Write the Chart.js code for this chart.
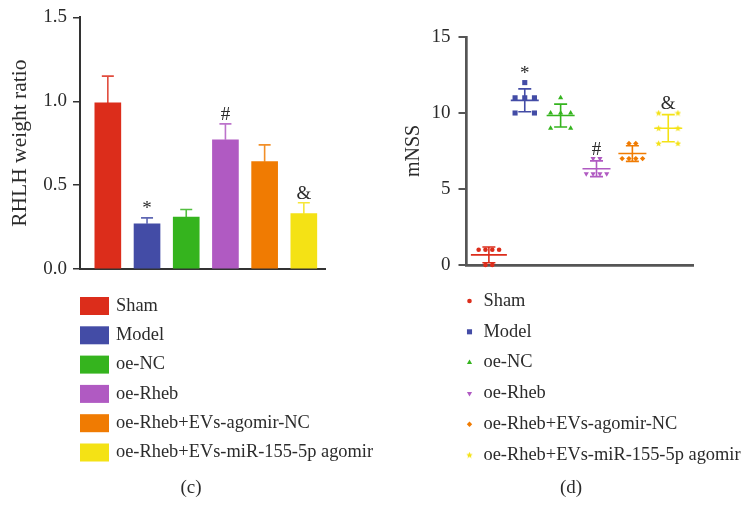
<!DOCTYPE html>
<html>
<head>
<meta charset="utf-8">
<script src="https://cdn.jsdelivr.net/npm/chart.js@4.4.1/dist/chart.umd.min.js"></script>
<style>
  html, body { margin: 0; padding: 0; background: #fff; }
  #wrap { position: relative; width: 743px; height: 507px; overflow: hidden; }
  canvas { position: absolute; top: 0; }
  #c1 { left: 0; }
  #c2 { left: 370px; }
</style>
</head>
<body>
<div id="wrap">
  <canvas id="c1" width="400" height="507"></canvas>
  <canvas id="c2" width="373" height="507"></canvas>
</div>
<script>
const groups = ['Sham', 'Model', 'oe-NC', 'oe-Rheb', 'oe-Rheb+EVs-agomir-NC', 'oe-Rheb+EVs-miR-155-5p agomir'];
const colors = ['#dc2d1b', '#434ca6', '#35b41e', '#b05ac2', '#f07b02', '#f4e215'];
const sigMarks = ['', '*', '', '#', '', '&'];

// (c) RHLH weight ratio: bar height and upper error
const rhlhMean = [0.99, 0.27, 0.31, 0.77, 0.64, 0.33];
const rhlhErr = [0.16, 0.035, 0.045, 0.095, 0.10, 0.065];
const rhlhTicks = [0, 0.5, 1.0, 1.5];

// (d) mNSS per animal
const mnssSham = [1, 1, 1, 1, 0, 0];
const mnssModel = [12, 11, 11, 11, 10, 10];
const mnssNC = [11, 10, 10, 10, 9, 9];
const mnssRheb = [7, 7, 6, 6, 6, 6];
const mnssAgoNC = [8, 8, 7, 7, 7, 7];
const mnssAgo155 = [10, 10, 9, 9, 8, 8];
const mnssTicks = [0, 5, 10, 15];

const mnss = [mnssSham, mnssModel, mnssNC, mnssRheb, mnssAgoNC, mnssAgo155];

Chart.defaults.font.family = "'Liberation Serif', 'Times New Roman', serif";
Chart.defaults.color = '#2b2b2b';

const textColor = '#2b2b2b';

// small filled star for the last group
function makeStar(color) {
    const c = document.createElement('canvas');
    c.width = 7; c.height = 7;
    const g = c.getContext('2d');
    g.fillStyle = color;
    g.beginPath();
    for (let k = 0; k < 10; k++) {
        const r = k % 2 ? 1.5 : 3.4;
        const a = -Math.PI / 2 + k * Math.PI / 5;
        g.lineTo(3.5 + r * Math.cos(a), 3.7 + r * Math.sin(a));
    }
    g.closePath();
    g.fill();
    return c;
}

const shapes = ['circle', 'rect', 'triangle', 'triangle', 'rectRot', makeStar(colors[5])];
const rotations = [0, 0, 0, 180, 0, 0];
const radii = [2.3, 3.6, 3, 3, 2.7, 4];
const stepUnits = [0.19, 0.27, 0.28, 0.19, 0.19, 0.27];
const bigMarker = [false, true, true, false, false, true];
const meanHalf = [18, 14, 14, 14, 14, 14];

// points with the same score sit side by side around the group centre
function spread(values, step, skipCentre) {
    const counts = {}, seen = {};
    values.forEach(v => counts[v] = (counts[v] || 0) + 1);
    return values.map(v => {
        const n = counts[v];
        seen[v] = seen[v] === undefined ? 0 : seen[v] + 1;
        let slot = seen[v] - (n - 1) / 2;
        if (skipCentre && n % 2 === 0) slot = slot < 0 ? Math.floor(slot) : Math.ceil(slot);
        return slot * step;
    });
}

const mean = a => a.reduce((s, v) => s + v, 0) / a.length;
const sd = a => {
    const m = mean(a);
    return Math.sqrt(a.reduce((s, v) => s + (v - m) * (v - m), 0) / (a.length - 1));
};

const barErrors = {
    id: 'barErrors',
    afterDatasetsDraw(chart) {
        const { ctx, scales: { x, y } } = chart;
        ctx.save();
        rhlhMean.forEach((m, i) => {
            const px = x.getPixelForValue(i + 1);
            const top = y.getPixelForValue(m + rhlhErr[i]);
            const base = y.getPixelForValue(m);
            ctx.globalAlpha = 0.85;
            ctx.strokeStyle = colors[i];
            ctx.lineWidth = 1.6;
            ctx.beginPath();
            ctx.moveTo(px, base);
            ctx.lineTo(px, top);
            ctx.moveTo(px - 6, top);
            ctx.lineTo(px + 6, top);
            ctx.stroke();
            ctx.globalAlpha = 1;
            if (sigMarks[i]) {
                ctx.fillStyle = textColor;
                ctx.font = "19px 'Liberation Serif'";
                ctx.textAlign = 'center';
                ctx.textBaseline = 'alphabetic';
                ctx.fillText(sigMarks[i], px, top - 4);
            }
        });
        ctx.restore();
    }
};

const legendC = {
    id: 'legendC',
    afterDraw(chart) {
        const { ctx, chartArea } = chart;
        ctx.save();
        ctx.font = "18.4px 'Liberation Serif'";
        ctx.textBaseline = 'middle';
        groups.forEach((g, i) => {
            const yy = chartArea.bottom + 37 + i * 29.3;
            ctx.fillStyle = colors[i];
            ctx.fillRect(chartArea.left, yy - 9, 29, 18);
            ctx.fillStyle = textColor;
            ctx.fillText(g, chartArea.left + 36, yy);
        });
        ctx.textAlign = 'center';
        ctx.font = "19px 'Liberation Serif'";
        ctx.fillText('(c)', 191, 488);
        ctx.restore();
    }
};

const meanSd = {
    id: 'meanSd',
    afterDatasetsDraw(chart) {
        const { ctx, scales: { x, y } } = chart;
        ctx.save();
        mnss.forEach((vals, i) => {
            const m = mean(vals), s = sd(vals);
            const cx = x.getPixelForValue(i + 1);
            const ym = y.getPixelForValue(m);
            const yt = y.getPixelForValue(m + s);
            const yb = y.getPixelForValue(m - s);
            ctx.strokeStyle = colors[i];
            ctx.lineWidth = 1.6;
            ctx.beginPath();
            ctx.moveTo(cx - meanHalf[i], ym);
            ctx.lineTo(cx + meanHalf[i], ym);
            ctx.moveTo(cx, yt);
            ctx.lineTo(cx, yb);
            ctx.moveTo(cx - 6.5, yt);
            ctx.lineTo(cx + 6.5, yt);
            ctx.moveTo(cx - 6.5, yb);
            ctx.lineTo(cx + 6.5, yb);
            ctx.stroke();
            if (sigMarks[i]) {
                const anchor = Math.min(yt, y.getPixelForValue(Math.max(...vals)));
                ctx.fillStyle = textColor;
                ctx.font = "19px 'Liberation Serif'";
                ctx.textAlign = 'center';
                ctx.textBaseline = 'alphabetic';
                ctx.fillText(sigMarks[i], cx, anchor - 4);
            }
        });
        ctx.restore();
    }
};

const legendD = {
    id: 'legendD',
    afterDraw(chart) {
        const { ctx, chartArea } = chart;
        ctx.save();
        ctx.font = "18.4px 'Liberation Serif'";
        ctx.textBaseline = 'middle';
        groups.forEach((g, i) => {
            const yy = chartArea.bottom + 36 + i * 30.8;
            const mx = chartArea.left + 3.5;
            ctx.fillStyle = colors[i];
            if (Chart.helpers && Chart.helpers.drawPoint) {
                Chart.helpers.drawPoint(ctx, {
                    pointStyle: shapes[i], rotation: rotations[i], radius: radii[i], borderWidth: 0
                }, mx, yy);
            }
            ctx.fillStyle = textColor;
            ctx.fillText(g, chartArea.left + 17.5, yy);
        });
        ctx.textAlign = 'center';
        ctx.font = "19px 'Liberation Serif'";
        ctx.fillText('(d)', 201, 488);
        ctx.restore();
    }
};

new Chart(document.getElementById('c1'), {
    type: 'bar',
    data: {
        datasets: [ {
            data: rhlhMean.map((v, i) => ({ x: i + 1, y: v })),
            backgroundColor: colors,
            barThickness: 26
        } ]
    },
    options: {
        responsive: false,
        animation: false,
        layout: { padding: { top: 17, bottom: 238, right: 75, left: 0 } },
        plugins: { legend: { display: false }, tooltip: { enabled: false } },
        scales: {
            x: {
                type: 'linear', min: 0.29, max: 6.54, offset: false, z: 1,
                afterFit: s => { s.height = 0; },
                ticks: { display: false },
                grid: { display: false },
                border: { color: '#333', width: 2 }
            },
            y: {
                min: rhlhTicks[0], max: rhlhTicks[rhlhTicks.length - 1],
                afterBuildTicks: s => { s.ticks = rhlhTicks.map(v => ({ value: v })); },
                afterFit: s => { s.width = 80; },
                ticks: { padding: 6, font: { size: 19 }, color: textColor, callback: v => v.toFixed(1) },
                grid: { drawOnChartArea: false, tickLength: 7, color: '#333', lineWidth: 1.5 },
                border: { color: '#333', width: 2 },
                title: { display: true, text: 'RHLH weight ratio', font: { size: 21.5 }, color: textColor, padding: { top: 7, bottom: 0 } }
            }
        }
    },
    plugins: [ barErrors, legendC ]
});

new Chart(document.getElementById('c2'), {
    type: 'scatter',
    data: {
        datasets: mnss.map((vals, i) => {
            const off = spread(vals, stepUnits[i], bigMarker[i]);
            return {
                label: groups[i],
                data: vals.map((v, k) => ({ x: i + 1 + off[k], y: v })),
                pointStyle: shapes[i],
                rotation: rotations[i],
                pointRadius: radii[i],
                backgroundColor: colors[i],
                borderWidth: 0,
                clip: false
            };
        })
    },
    options: {
        responsive: false,
        animation: false,
        layout: { padding: { top: 37, bottom: 242, right: 50, left: 0 } },
        plugins: { legend: { display: false }, tooltip: { enabled: false } },
        scales: {
            x: {
                type: 'linear', min: 0.362, max: 6.69,
                afterFit: s => { s.height = 0; },
                ticks: { display: false },
                grid: { display: false },
                border: { color: '#555', width: 2.7 }
            },
            y: {
                min: mnssTicks[0], max: mnssTicks[mnssTicks.length - 1],
                afterBuildTicks: s => { s.ticks = mnssTicks.map(v => ({ value: v })); },
                afterFit: s => { s.width = 96; },
                ticks: { padding: 8, font: { size: 19 }, color: textColor },
                grid: { drawOnChartArea: false, tickLength: 7.5, color: '#555', lineWidth: 2 },
                border: { color: '#555', width: 2.7 },
                title: { display: true, text: 'mNSS', font: { size: 20 }, color: textColor, padding: { top: 32, bottom: 0 } }
            }
        }
    },
    plugins: [ meanSd, legendD ]
});
</script>
</body>
</html>
